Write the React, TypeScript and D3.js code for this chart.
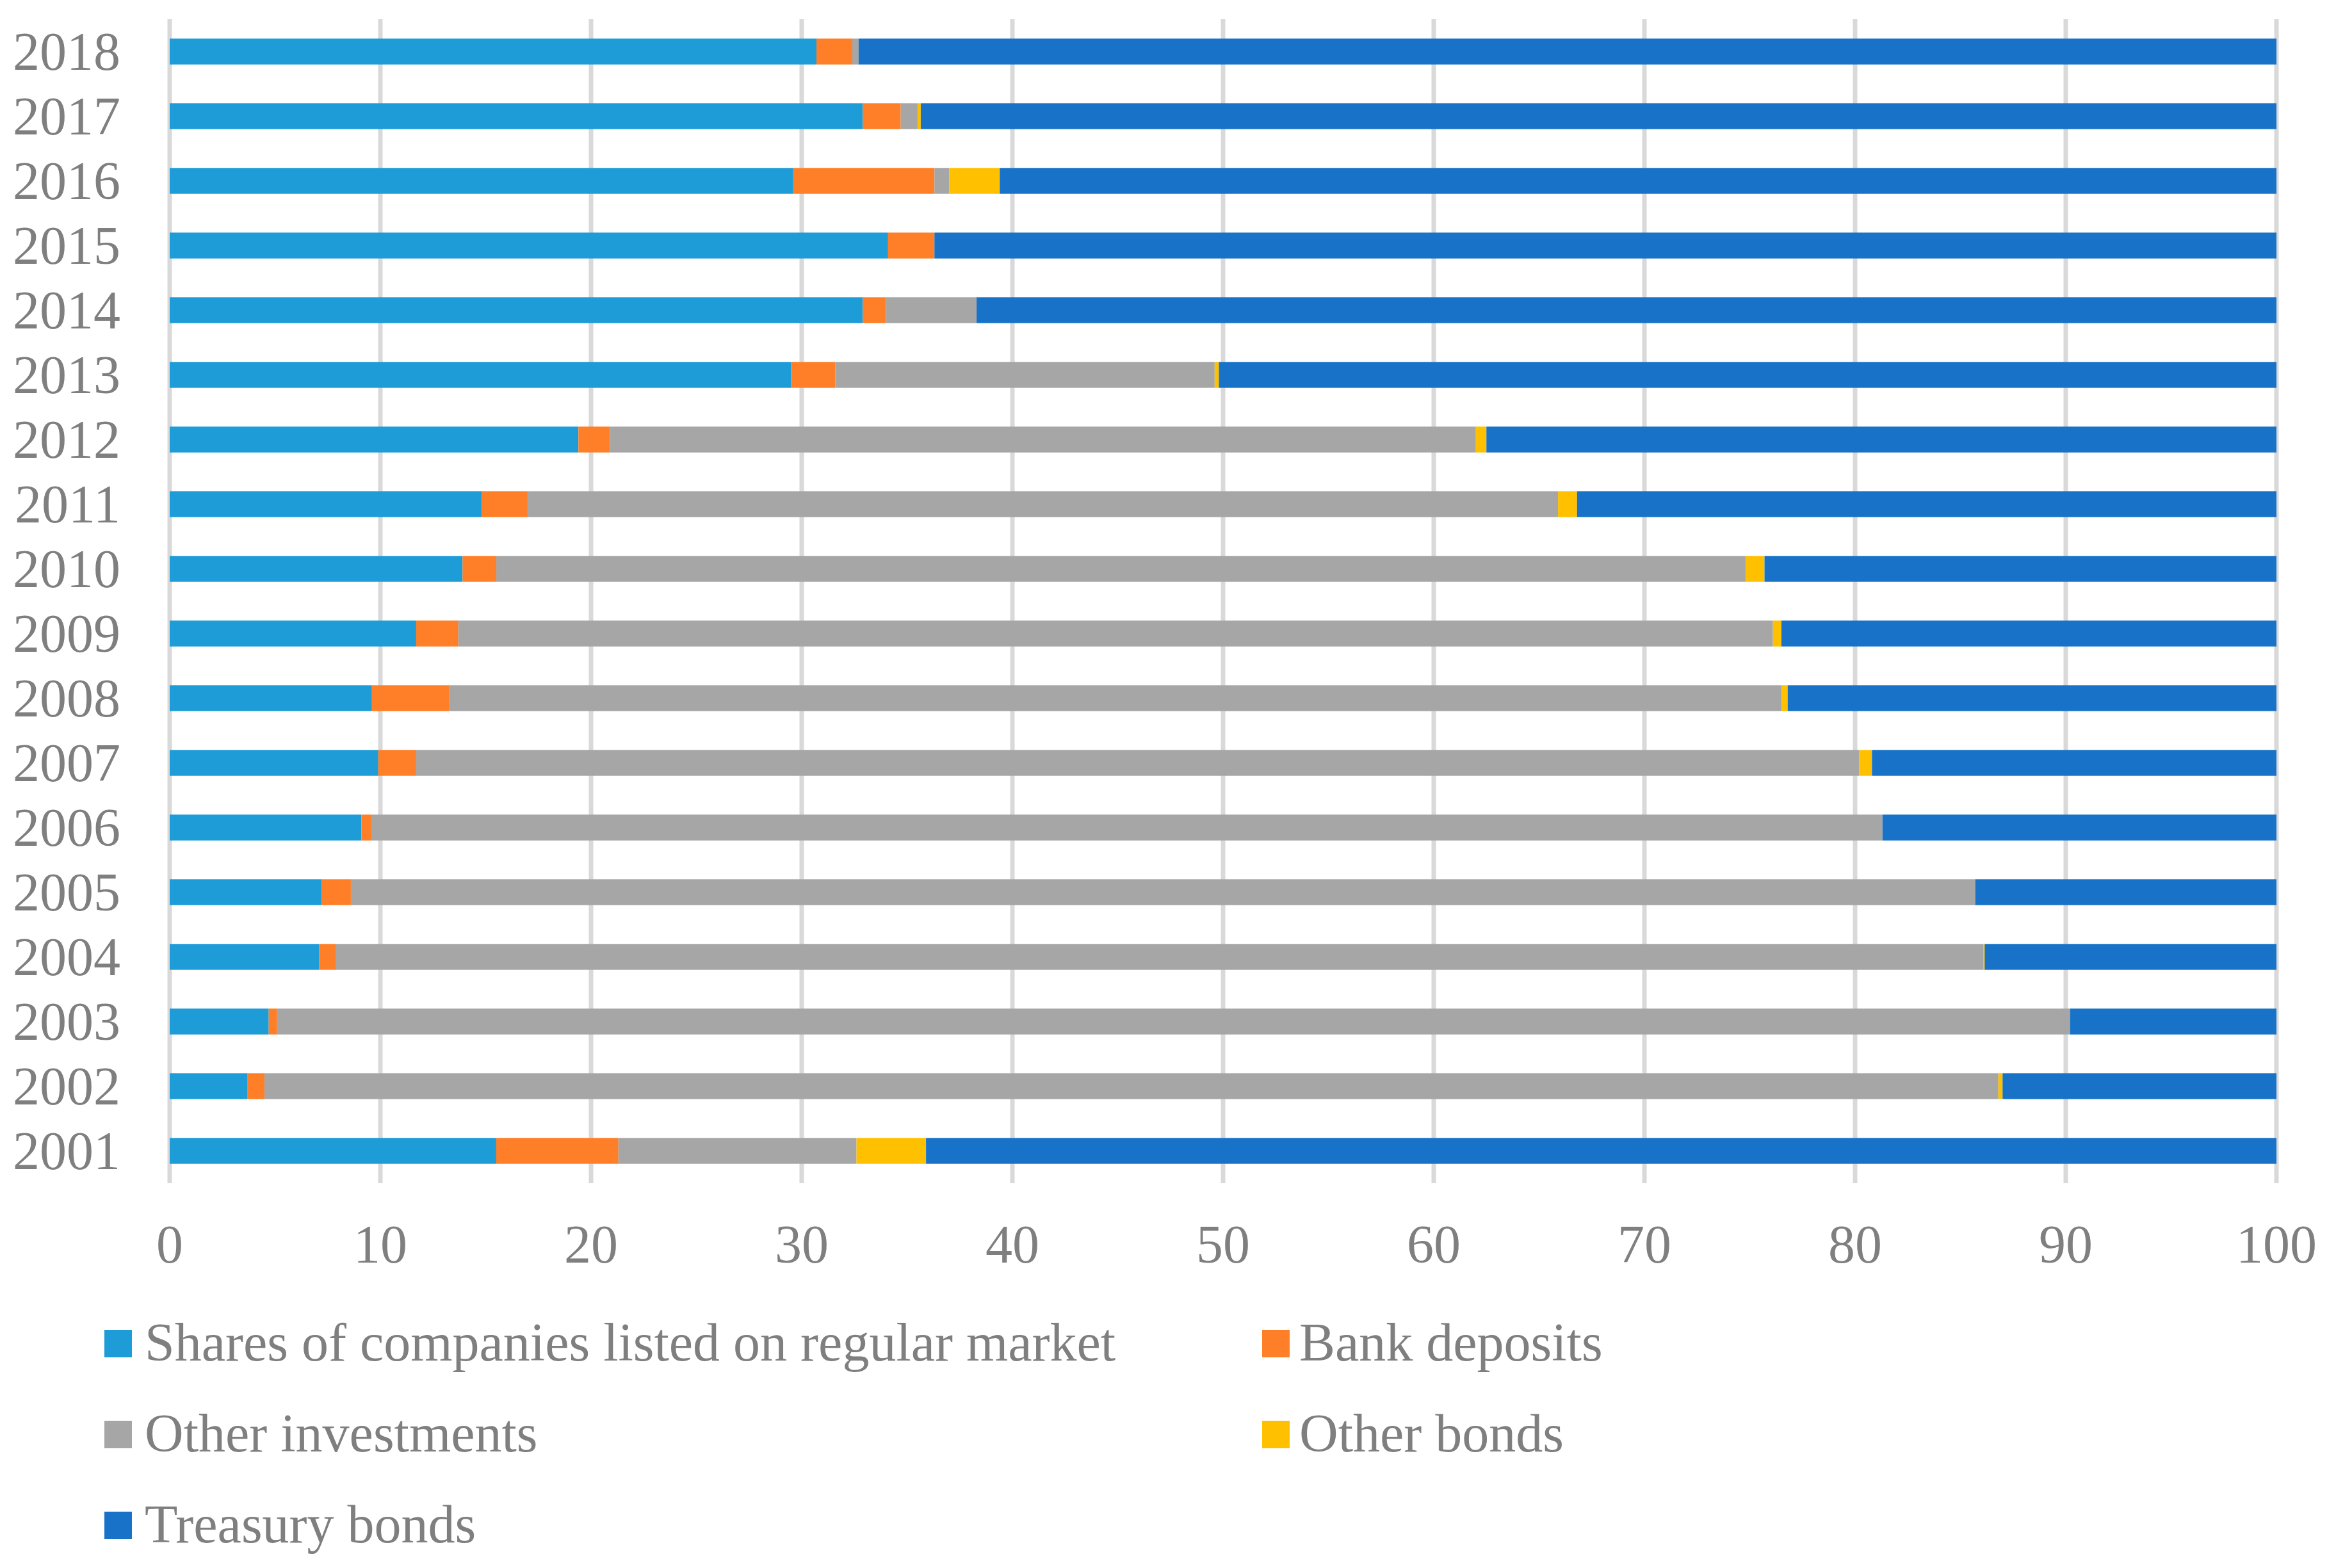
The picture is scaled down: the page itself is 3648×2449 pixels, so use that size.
import * as d3 from "d3";

const years = ["2001", "2002", "2003", "2004", "2005", "2006", "2007", "2008", "2009",
  "2010", "2011", "2012", "2013", "2014", "2015", "2016", "2017", "2018"];

const shares = [15.5, 3.7, 4.7, 7.1, 7.2, 9.1, 9.9, 9.6, 11.7, 13.9, 14.8, 19.4, 29.5, 32.9, 34.1, 29.6, 32.9, 30.7];
const bankDeposits = [5.8, 0.8, 0.4, 0.8, 1.4, 0.5, 1.8, 3.7, 2.0, 1.6, 2.2, 1.5, 2.1, 1.1, 2.2, 6.7, 1.8, 1.7];
const otherInvestments = [11.3, 82.3, 85.1, 78.2, 77.1, 71.7, 68.5, 63.2, 62.4, 59.3, 48.9, 41.1, 18.0, 4.3, 0, 0.7, 0.8, 0.3];
const otherBonds = [3.3, 0.2, 0, 0.05, 0, 0, 0.6, 0.3, 0.4, 0.9, 0.9, 0.5, 0.2, 0, 0, 2.4, 0.15, 0];
const treasuryBonds = [64.1, 13.0, 9.8, 13.85, 14.3, 18.7, 19.2, 23.2, 23.5, 24.3, 33.2, 37.5, 50.2, 61.7, 63.7, 60.6, 64.35, 67.3];

const seriesNames = [
  "Shares of companies listed on regular market",
  "Bank deposits",
  "Other investments",
  "Other bonds",
  "Treasury bonds",
];
const xTicks = [0, 10, 20, 30, 40, 50, 60, 70, 80, 90, 100];

const COLORS = ["#1e9cd7", "#fe7f27", "#a6a6a6", "#ffc000", "#1873c8"];
const TEXT = "#7f7f7f";
const GRID = "#d9d9d9";
const FONT = "'Liberation Serif', 'Times New Roman', serif";

const W = 3648;
const H = 2449;
const PLOT = { left: 265, right: 3555, top: 30, bottom: 1848 };

export default function App() {
  const rows = years.map((y, i) => ({
    year: y,
    s0: shares[i],
    s1: bankDeposits[i],
    s2: otherInvestments[i],
    s3: otherBonds[i],
    s4: treasuryBonds[i],
  }));
  const keys = ["s0", "s1", "s2", "s3", "s4"];
  const stacked = d3.stack<any>().keys(keys)(rows);

  const x = d3.scaleLinear().domain([0, 100]).range([PLOT.left, PLOT.right]);
  const y = d3
    .scaleBand<string>()
    .domain([...years].reverse())
    .range([PLOT.top, PLOT.bottom])
    .paddingInner(0.6)
    .paddingOuter(0.3);

  // legend layout: two columns, three rows
  const legendPos = seriesNames.map((_, i) => ({
    mx: i % 2 === 0 ? 163 : 1971,
    tx: i % 2 === 0 ? 226 : 2029,
    base: 2125 + Math.floor(i / 2) * 142,
  }));

  return (
    <svg
      width={W}
      height={H}
      style={{ position: "absolute", left: 0, top: 0, background: "#fff" }}
      fontFamily={FONT}
    >
      <rect width={W} height={H} fill="#fff" />

      {/* gridlines */}
      {xTicks.map((t) => (
        <line
          key={t}
          x1={x(t)}
          x2={x(t)}
          y1={PLOT.top}
          y2={PLOT.bottom}
          stroke={GRID}
          strokeWidth={7}
        />
      ))}

      {/* stacked bars */}
      {stacked.map((layer, li) => (
        <g key={layer.key} fill={COLORS[li]}>
          {layer.map((d: any) => {
            const w = x(d[1]) - x(d[0]);
            if (w <= 0) return null;
            return (
              <rect
                key={d.data.year}
                x={x(d[0])}
                y={y(d.data.year)}
                width={w}
                height={y.bandwidth()}
              />
            );
          })}
        </g>
      ))}

      {/* category labels */}
      {years.map((yr) => (
        <text
          key={yr}
          x={188}
          y={(y(yr) ?? 0) + y.bandwidth() / 2 + 28}
          textAnchor="end"
          fontSize={84}
          fill={TEXT}
        >
          {yr}
        </text>
      ))}

      {/* value axis labels */}
      {xTicks.map((t) => (
        <text key={t} x={x(t)} y={1972} textAnchor="middle" fontSize={84} fill={TEXT}>
          {t}
        </text>
      ))}

      {/* legend */}
      {seriesNames.map((name, i) => (
        <g key={name}>
          <rect x={legendPos[i].mx} y={legendPos[i].base - 48} width={43} height={43} fill={COLORS[i]} />
          <text x={legendPos[i].tx} y={legendPos[i].base} fontSize={84} fill={TEXT}>
            {name}
          </text>
        </g>
      ))}
    </svg>
  );
}
